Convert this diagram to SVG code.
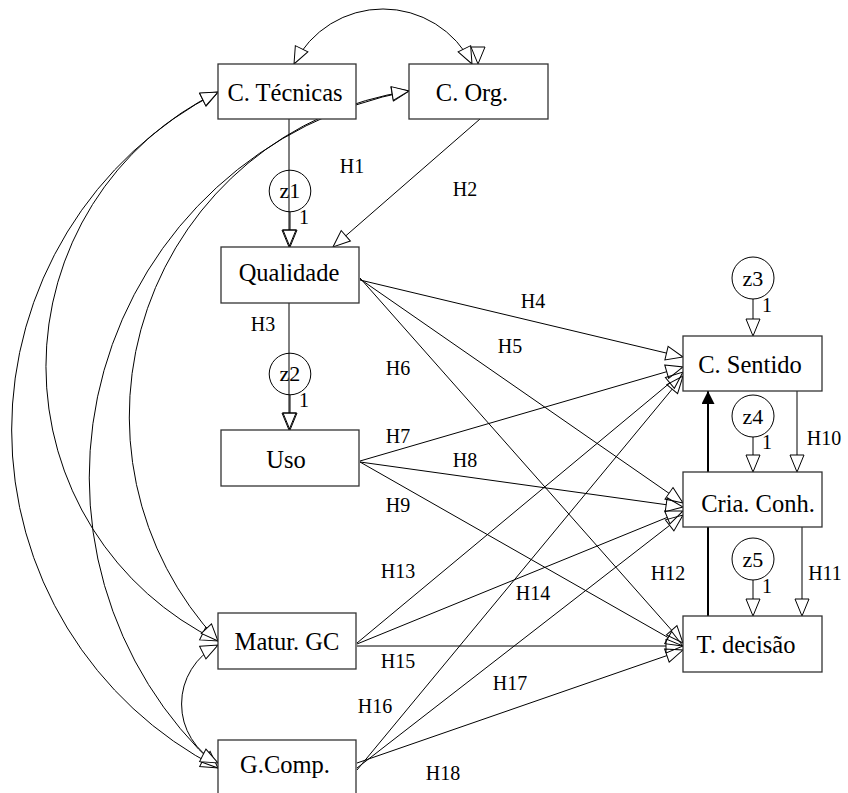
<svg xmlns="http://www.w3.org/2000/svg" width="848" height="793" viewBox="0 0 848 793" font-family="'Liberation Serif', 'Times New Roman', Times, serif">
<style>
.box{fill:#fff;stroke:#333;stroke-width:1.3}
text{font-family:'Liberation Serif','Times New Roman',Times,serif;fill:#000;text-anchor:middle}
.nt{font-size:24.5px}
.zc{fill:none;stroke:#000;stroke-width:1}
.zt{font-size:22px}
.lb{font-size:20px}
.ln{fill:none;stroke:#000;stroke-width:1;marker-end:url(#oa)}
.cv{fill:none;stroke:#000;stroke-width:1;marker-start:url(#ca);marker-end:url(#ca)}
</style>
<defs>
<marker id="oa" viewBox="-1 -1 19 16" refX="0" refY="7" markerWidth="19" markerHeight="16" markerUnits="userSpaceOnUse" orient="auto" overflow="visible"><path d="M0,0 L17,7 L0,14 Z" fill="none" stroke="#000" stroke-width="1"/></marker>
<marker id="ca" viewBox="-1 -1 19 16" refX="17" refY="7" markerWidth="19" markerHeight="16" markerUnits="userSpaceOnUse" orient="auto-start-reverse" overflow="visible"><path d="M0,0 L17,7 L0,14 Z" fill="#fff" stroke="#000" stroke-width="1"/></marker>
<marker id="fa" viewBox="0 0 13 13" refX="13" refY="6.5" markerWidth="13" markerHeight="13" markerUnits="userSpaceOnUse" orient="auto"><path d="M0,0 L13,6.5 L0,13 Z" fill="#000"/></marker>
</defs>
<g id="connectors">
<path class="cv" d="M294,64 A99.5,99.5 0 0 1 472,64"/>
<path d="M478,47 L478,64" fill="none" stroke="none" marker-end="url(#ca)"/>
<path class="cv" d="M218,92 A380,380 0 0 0 218,768"/>
<path class="cv" d="M218,92 A305,305 0 0 0 218,641"/>
<path class="cv" d="M409,91 A393,393 0 0 0 218,768"/>
<path class="cv" d="M409,91 A329,329 0 0 0 218,641"/>
<path class="cv" d="M218,645 A66,66 0 0 0 218,763"/>
<path class="ln" d="M289,119 L289,230"/>
<path class="ln" d="M290,212 L290,230"/>
<path class="ln" d="M480,119 L345.8,235.8"/>
<path class="ln" d="M289,303 L289,413"/>
<path class="ln" d="M290,395 L290,413"/>
<path class="ln" d="M360,280 L666.5,353.1"/>
<path class="ln" d="M360,279 L669,493.3"/>
<path class="ln" d="M360,278 L671.7,630.3"/>
<path class="ln" d="M360,461 L666.7,371.7"/>
<path class="ln" d="M360,462 L666.2,504.7"/>
<path class="ln" d="M360,462 L668.2,637.6"/>
<path class="ln" d="M357,643 L669.9,382.9"/>
<path class="ln" d="M357,644 L667.3,517.4"/>
<path class="ln" d="M357,646 L666,646"/>
<path class="ln" d="M357,770 L672.2,389.1"/>
<path class="ln" d="M357,768 L669.6,525.4"/>
<path class="ln" d="M357,763 L666.9,655.6"/>
<path class="ln" d="M797,391 L797,455"/>
<path class="ln" d="M802,527 L802,599"/>
<path class="ln" d="M753,299 L753,319"/>
<path class="ln" d="M753,437 L753,455"/>
<path class="ln" d="M753,580 L753,599"/>
<path d="M708,616 L708,391" fill="none" stroke="#000" stroke-width="2" marker-end="url(#fa)"/>
</g>
<g id="node-ctecnicas"><rect class="box" x="218" y="64" width="138" height="55"/><text class="nt" x="285" y="101">C. Técnicas</text></g>
<g id="node-corg"><rect class="box" x="409" y="64" width="139" height="55"/><text class="nt" x="472" y="101">C. Org.</text></g>
<g id="node-qualidade"><rect class="box" x="221" y="247" width="138" height="56"/><text class="nt" x="289" y="281">Qualidade</text></g>
<g id="node-uso"><rect class="box" x="221" y="430" width="138" height="56"/><text class="nt" x="286" y="468">Uso</text></g>
<g id="node-csentido"><rect class="box" x="683" y="336" width="139" height="55"/><text class="nt" x="750" y="373">C. Sentido</text></g>
<g id="node-criaconh"><rect class="box" x="683" y="472" width="139" height="55"/><text class="nt" x="758" y="512">Cria. Conh.</text></g>
<g id="node-tdecisao"><rect class="box" x="683" y="616" width="139" height="56"/><text class="nt" x="746" y="653">T. decisão</text></g>
<g id="node-maturgc"><rect class="box" x="218" y="613" width="138" height="56"/><text class="nt" x="287" y="650">Matur. GC</text></g>
<g id="node-gcomp"><rect class="box" x="218" y="740" width="138" height="56"/><text class="nt" x="285" y="773">G.Comp.</text></g>
<g id="node-z1"><circle class="zc" cx="290" cy="191" r="20.8"/><text class="zt" x="290" y="198">z1</text></g>
<g id="node-z2"><circle class="zc" cx="290" cy="374" r="20.8"/><text class="zt" x="290" y="381">z2</text></g>
<g id="node-z3"><circle class="zc" cx="753" cy="278" r="21"/><text class="zt" x="753" y="286">z3</text></g>
<g id="node-z4"><circle class="zc" cx="753" cy="416" r="21"/><text class="zt" x="753" y="424">z4</text></g>
<g id="node-z5"><circle class="zc" cx="753" cy="559" r="21"/><text class="zt" x="753" y="567">z5</text></g>
<g id="labels">
<text class="lb" x="352" y="173">H1</text>
<text class="lb" x="465" y="196">H2</text>
<text class="lb" x="263" y="331">H3</text>
<text class="lb" x="533" y="308">H4</text>
<text class="lb" x="510" y="353">H5</text>
<text class="lb" x="398" y="375">H6</text>
<text class="lb" x="398" y="443">H7</text>
<text class="lb" x="465" y="467">H8</text>
<text class="lb" x="398" y="512">H9</text>
<text class="lb" x="824" y="445">H10</text>
<text class="lb" x="825" y="580">H11</text>
<text class="lb" x="668" y="580">H12</text>
<text class="lb" x="398" y="578">H13</text>
<text class="lb" x="533" y="600">H14</text>
<text class="lb" x="398" y="668">H15</text>
<text class="lb" x="375" y="713">H16</text>
<text class="lb" x="510" y="690">H17</text>
<text class="lb" x="443" y="780">H18</text>
<text class="lb" x="304" y="224">1</text>
<text class="lb" x="304" y="407">1</text>
<text class="lb" x="767" y="312">1</text>
<text class="lb" x="767" y="449">1</text>
<text class="lb" x="767" y="593">1</text>
</g>
</svg>
